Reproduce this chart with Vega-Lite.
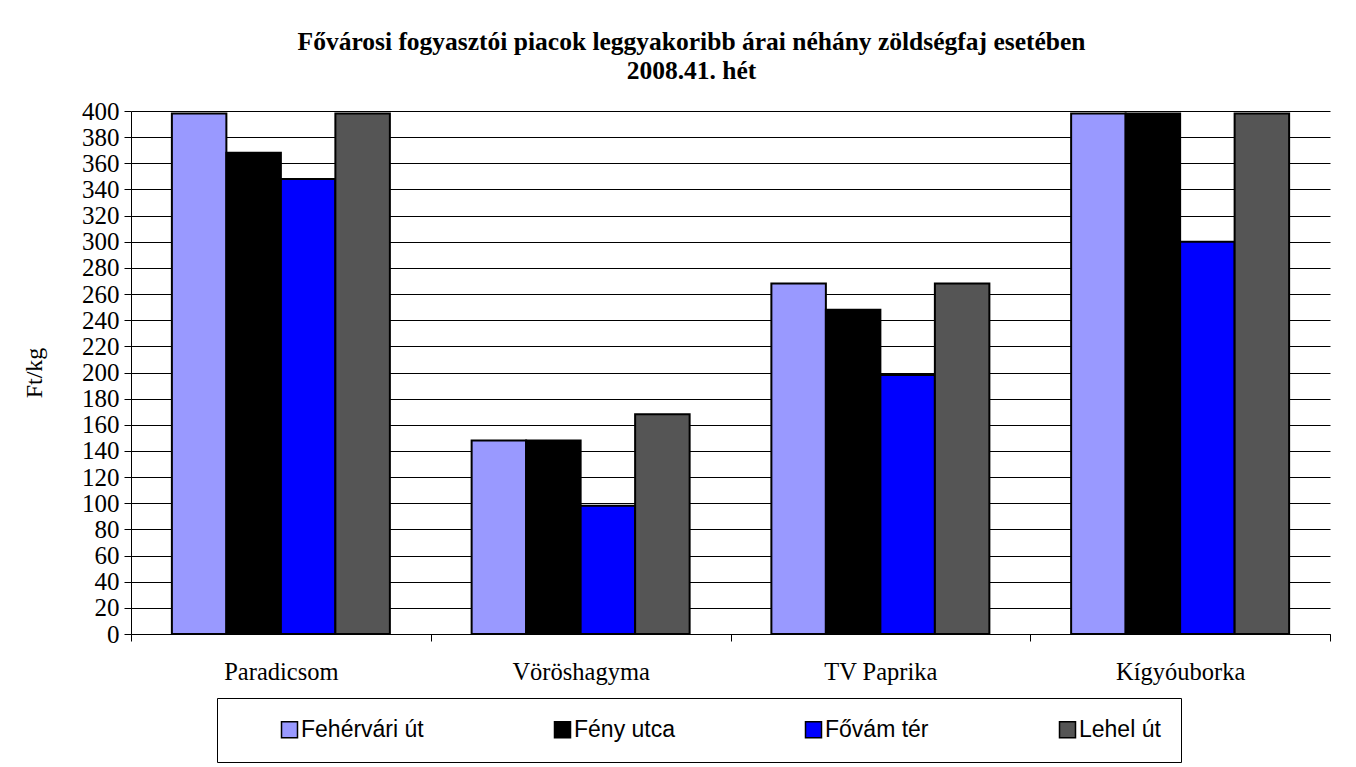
{
  "$schema": "https://vega.github.io/schema/vega-lite/v6.json",
  "width": 1199,
  "height": 523,
  "autosize": "none",
  "padding": {"left": 131, "top": 111, "right": 26, "bottom": 133},
  "background": "white",
  "title": {
    "text": ["Fővárosi fogyasztói piacok leggyakoribb árai néhány zöldségfaj esetében", "2008.41. hét"],
    "font": "Liberation Serif",
    "fontSize": 25.5,
    "fontWeight": "bold",
    "color": "black",
    "anchor": "middle",
    "dx": -39,
    "offset": 15,
    "lineHeight": 29
  },
  "data": {
    "values": [
      {"zoldseg": "Paradicsom", "piac": "Fehérvári út", "ar": 398},
      {"zoldseg": "Paradicsom", "piac": "Fény utca", "ar": 368},
      {"zoldseg": "Paradicsom", "piac": "Fővám tér", "ar": 348},
      {"zoldseg": "Paradicsom", "piac": "Lehel út", "ar": 398},
      {"zoldseg": "Vöröshagyma", "piac": "Fehérvári út", "ar": 148},
      {"zoldseg": "Vöröshagyma", "piac": "Fény utca", "ar": 148},
      {"zoldseg": "Vöröshagyma", "piac": "Fővám tér", "ar": 98},
      {"zoldseg": "Vöröshagyma", "piac": "Lehel út", "ar": 168},
      {"zoldseg": "TV Paprika", "piac": "Fehérvári út", "ar": 268},
      {"zoldseg": "TV Paprika", "piac": "Fény utca", "ar": 248},
      {"zoldseg": "TV Paprika", "piac": "Fővám tér", "ar": 198},
      {"zoldseg": "TV Paprika", "piac": "Lehel út", "ar": 268},
      {"zoldseg": "Kígyóuborka", "piac": "Fehérvári út", "ar": 398},
      {"zoldseg": "Kígyóuborka", "piac": "Fény utca", "ar": 398},
      {"zoldseg": "Kígyóuborka", "piac": "Fővám tér", "ar": 300},
      {"zoldseg": "Kígyóuborka", "piac": "Lehel út", "ar": 398}
    ]
  },
  "mark": {"type": "bar", "stroke": "black", "strokeWidth": 2},
  "encoding": {
    "x": {
      "field": "zoldseg",
      "type": "nominal",
      "sort": ["Paradicsom", "Vöröshagyma", "TV Paprika", "Kígyóuborka"],
      "scale": {"paddingInner": 0, "paddingOuter": 0},
      "axis": {
        "title": null,
        "labelAngle": 0,
        "tickBand": "extent",
        "tickSize": 7,
        "tickColor": "black",
        "domainColor": "black",
        "labelPadding": 19,
        "labelFont": "Liberation Serif",
        "labelFontSize": 24.5,
        "labelColor": "black"
      }
    },
    "xOffset": {
      "field": "piac",
      "type": "nominal",
      "sort": ["Fehérvári út", "Fény utca", "Fővám tér", "Lehel út"],
      "scale": {"paddingInner": 0, "paddingOuter": 0.75}
    },
    "y": {
      "field": "ar",
      "type": "quantitative",
      "scale": {"domain": [0, 400], "nice": false},
      "axis": {
        "title": "Ft/kg",
        "values": [0, 20, 40, 60, 80, 100, 120, 140, 160, 180, 200, 220, 240, 260, 280, 300, 320, 340, 360, 380, 400],
        "tickSize": 7,
        "tickColor": "black",
        "domainColor": "black",
        "gridColor": "black",
        "gridOpacity": 1,
        "labelPadding": 5,
        "labelFont": "Liberation Serif",
        "labelFontSize": 25,
        "labelColor": "black",
        "titleFont": "Liberation Serif",
        "titleFontSize": 24,
        "titleFontWeight": "normal",
        "titleColor": "black",
        "titlePadding": 35
      }
    },
    "color": {
      "field": "piac",
      "type": "nominal",
      "scale": {
        "domain": ["Fehérvári út", "Fény utca", "Fővám tér", "Lehel út"],
        "range": ["#9999FF", "#000000", "#0000FF", "#555555"]
      },
      "legend": {
        "title": null,
        "orient": "none",
        "legendX": 86,
        "legendY": 587,
        "direction": "horizontal",
        "columns": 4,
        "strokeColor": "black",
        "padding": 20,
        "symbolType": "square",
        "symbolSize": 256,
        "symbolStrokeColor": "black",
        "symbolStrokeWidth": 1.5,
        "symbolOpacity": 1,
        "symbolOffset": 41,
        "labelOffset": 0,
        "columnPadding": 86,
        "labelFont": "Liberation Sans",
        "labelFontSize": 23,
        "labelColor": "black",
        "labelLimit": 400,
        "labelExpr": "datum.label == 'Lehel út' ? datum.label + '\u00a0\u00a0\u00a0\u00a0\u00a0\u00a0\u00a0' : datum.label"
      }
    }
  },
  "config": {"view": {"stroke": null}}
}
